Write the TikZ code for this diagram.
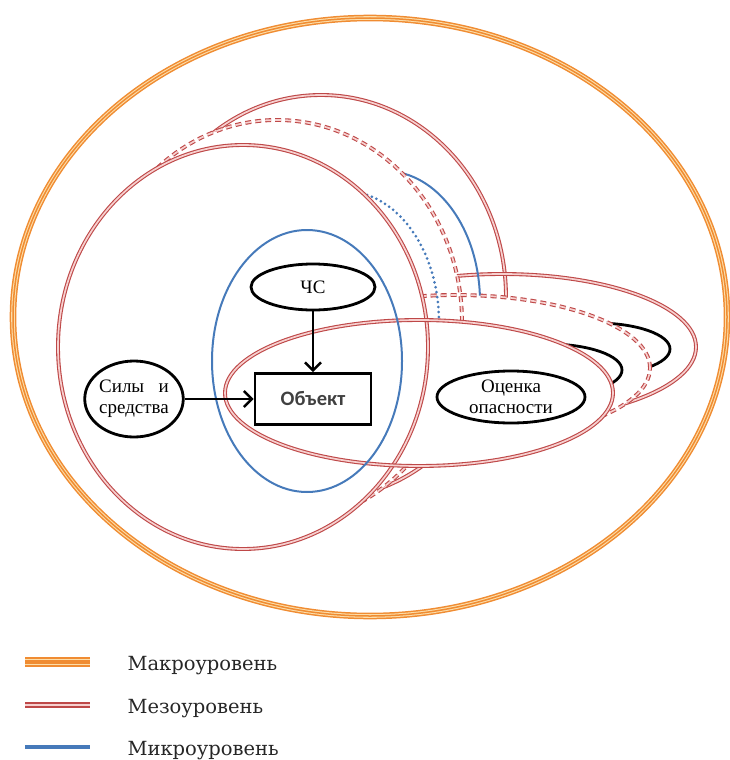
\documentclass[tikz,border=0pt]{standalone}
\usepackage{fontspec}
\setmainfont{Liberation Serif}
\newfontfamily\objfont{Carlito}
\newfontfamily\legfont{DejaVu Serif}
\usepackage{calc}
\usepackage{tikz}
\usetikzlibrary{
    arrows.meta,
    positioning,
    shapes.geometric
}
\usepackage{xcolor}

\definecolor{macroorange}{RGB}{240,140,50}
\definecolor{macrolight}{RGB}{252,222,170}
\definecolor{mesored}{RGB}{190,72,72}
\definecolor{mesopink}{RGB}{247,208,207}
\definecolor{microblue}{RGB}{70,122,186}

% hide everything inside an ellipse of a nearer layer
\newcommand{\cutaway}[3]{\clip (0,0) rectangle (729,760) (#1) ellipse [x radius=#2pt, y radius=#3pt];}

\begin{document}
\begin{tikzpicture}[
        x=1pt, y=-1pt,
        >={Straight Barb[length=8pt, width=16pt]},
        font=\fontsize{19}{21}\selectfont,
        macro/.style={draw=macroorange, line width=1.5pt, double=macrolight, double distance=3.6pt},
        macrocore/.style={draw=macroorange, line width=1.5pt},
        meso/.style={draw=mesored, line width=1.1pt, double=mesopink, double distance=1.7pt},
        mesodash/.style={meso, dash pattern=on 6pt off 4pt},
        micro/.style={draw=microblue, line width=2pt},
        microdot/.style={draw=microblue, line width=3pt, line cap=round, dash pattern=on 0pt off 5pt},
        risk/.style={draw=black, line width=2.8pt},
        blob/.style={
            ellipse,
            draw,
            line width=2.8pt,
            inner sep=0pt,
            align=center
        },
        box/.style={
            rectangle,
            draw,
            line width=2.6pt,
            minimum width=116pt,
            minimum height=51pt,
            text=black!75,
            font=\objfont\bfseries\fontsize{20.5}{24}\selectfont
        },
        legtext/.style={anchor=base west, text=black!85, font=\legfont\fontsize{19.5}{22}\selectfont}
    ]
        \useasboundingbox (0,0) rectangle (729,760);

        % macro level
        \draw[macro] (370,317) ellipse [x radius=357pt, y radius=299pt];
        \draw[macrocore] (370,317) ellipse [x radius=357pt, y radius=299pt];

        % back layer
        \begin{scope}[even odd rule]
            \cutaway{243,347}{185}{202}
            \cutaway{419,393}{194}{73}
            \cutaway{277,322}{185}{202}
            \cutaway{456,368}{194}{73}
            \draw[meso] (321,297) ellipse [x radius=185pt, y radius=202pt];
            \draw[meso] (502,347) ellipse [x radius=194pt, y radius=73pt];
            \draw[micro] (385,302) ellipse [x radius=95pt, y radius=131pt];
            \draw[risk] (596,349) ellipse [x radius=74pt, y radius=26pt];
        \end{scope}

        % middle layer
        \begin{scope}[even odd rule]
            \cutaway{243,347}{185}{202}
            \cutaway{419,393}{194}{73}
            \draw[mesodash] (277,322) ellipse [x radius=185pt, y radius=202pt];
            \draw[mesodash] (456,368) ellipse [x radius=194pt, y radius=73pt];
            \draw[microdot] (344,322) ellipse [x radius=95pt, y radius=131pt];
            \draw[risk] (548,370) ellipse [x radius=74pt, y radius=26pt];
        \end{scope}

        % front layer
        \draw[meso] (243,347) ellipse [x radius=185pt, y radius=202pt];
        \draw[meso] (419,393) ellipse [x radius=194pt, y radius=73pt];
        \draw[micro] (307,361) ellipse [x radius=95pt, y radius=131pt];

        \node[blob, minimum width=124pt, minimum height=46pt] (chs) at (313,287) {ЧС};
        \node[box] (obj) at (313,399) {Объект};
        \node[blob, minimum width=96pt, minimum height=76pt] (sily) at (134,399)
            {\makebox[\widthof{средства}][s]{Силы и}\\средства};
        \node[blob, minimum width=148pt, minimum height=52pt] (risk) at (511,397) {Оценка\\опасности};

        \draw[->, line width=2.6pt] (chs) -- (obj);
        \draw[->, line width=2.6pt] (sily) -- (obj);

        % legend
        \draw[macro, line width=2pt, double distance=6.9pt] (25,662) -- (90,662);
        \draw[macrocore, line width=3.5pt] (25,662) -- (90,662);
        \draw[meso, line width=2pt, double distance=2.5pt] (25,705) -- (90,705);
        \draw[micro, line width=4pt] (25,747) -- (90,747);
        \node[legtext] (macrolbl) at (124,670) {Макроуровень};
        \node[legtext] (mesolbl) at (124,713) {Мезоуровень};
        \node[legtext] (microlbl) at (124,755) {Микроуровень};
\end{tikzpicture}
\end{document}
